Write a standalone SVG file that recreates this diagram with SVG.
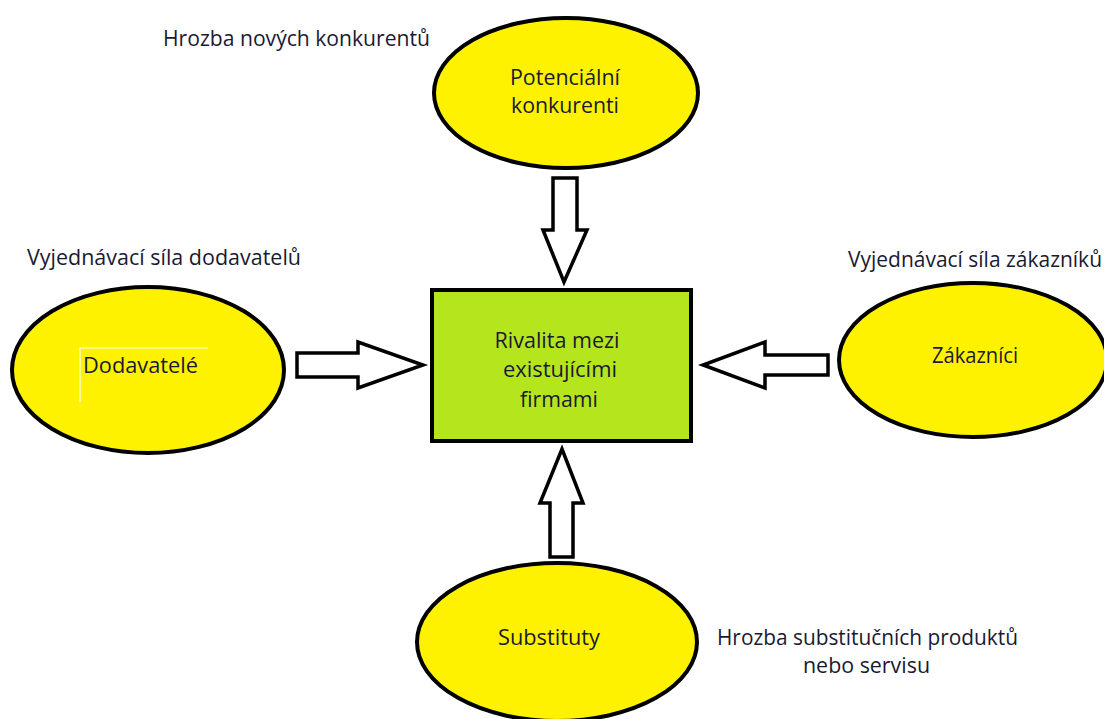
<svg xmlns="http://www.w3.org/2000/svg" width="1104" height="719" viewBox="0 0 1104 719">
<style>
.t{font-family:"Open Sans","Liberation Sans",sans-serif;font-size:21px;fill:#1a1a33}
.e{fill:#fff200;stroke:#000;stroke-width:4}
.a{fill:#fff;stroke:#000;stroke-width:3.5;stroke-linejoin:miter}
</style>
<rect width="1104" height="719" fill="#fff"/>
<g id="labels">
<text class="t" x="163" y="46" textLength="267" lengthAdjust="spacingAndGlyphs">Hrozba nových konkurentů</text>
<text class="t" x="27" y="265" textLength="274" lengthAdjust="spacingAndGlyphs">Vyjednávací síla dodavatelů</text>
<text class="t" x="848" y="267" textLength="254" lengthAdjust="spacingAndGlyphs">Vyjednávací síla zákazníků</text>
<text class="t" x="717" y="645" textLength="301" lengthAdjust="spacingAndGlyphs">Hrozba substitučních produktů</text>
<text class="t" x="803" y="673" textLength="127" lengthAdjust="spacingAndGlyphs">nebo servisu</text>
</g>
<g id="connectors">
<polygon class="a" points="553,178 577,178 577,230 587,230 564,282 543,230 553,230"/>
<polygon class="a" points="297,353 358,353 358,342 423,365 358,388 358,377 297,377"/>
<polygon class="a" points="828,355 765,355 765,342 703,365 765,388 765,375 828,375"/>
<polygon class="a" points="550,557 573,557 573,503 583,503 562,449 540,503 550,503"/>
</g>
<g id="potencialni">
<ellipse class="e" cx="566" cy="93" rx="132" ry="75"/>
<text class="t" x="565" y="85" text-anchor="middle" textLength="110" lengthAdjust="spacingAndGlyphs">Potenciální</text>
<text class="t" x="565" y="113" text-anchor="middle" textLength="108" lengthAdjust="spacingAndGlyphs">konkurenti</text>
</g>
<g id="dodavatele">
<ellipse class="e" cx="148" cy="370" rx="136" ry="83"/>
<polyline points="80,402 80,348 208,348" fill="none" stroke="#fff" stroke-width="1.2"/>
<text class="t" x="83" y="373" textLength="115" lengthAdjust="spacingAndGlyphs">Dodavatelé</text>
</g>
<g id="zakaznici">
<ellipse class="e" cx="973" cy="360" rx="134" ry="77"/>
<text class="t" x="975" y="363" text-anchor="middle" textLength="86" lengthAdjust="spacingAndGlyphs">Zákazníci</text>
</g>
<g id="substituty">
<ellipse class="e" cx="557" cy="642" rx="140" ry="79"/>
<text class="t" x="549" y="645" text-anchor="middle" textLength="102" lengthAdjust="spacingAndGlyphs">Substituty</text>
</g>
<g id="rivalita">
<rect x="432" y="290" width="259" height="151" fill="#b5e61d" stroke="#000" stroke-width="4"/>
<text class="t" x="557" y="348" text-anchor="middle" textLength="125" lengthAdjust="spacingAndGlyphs">Rivalita mezi</text>
<text class="t" x="560" y="377" text-anchor="middle" textLength="114" lengthAdjust="spacingAndGlyphs">existujícími</text>
<text class="t" x="559" y="407" text-anchor="middle" textLength="78" lengthAdjust="spacingAndGlyphs">firmami</text>
</g>
</svg>
